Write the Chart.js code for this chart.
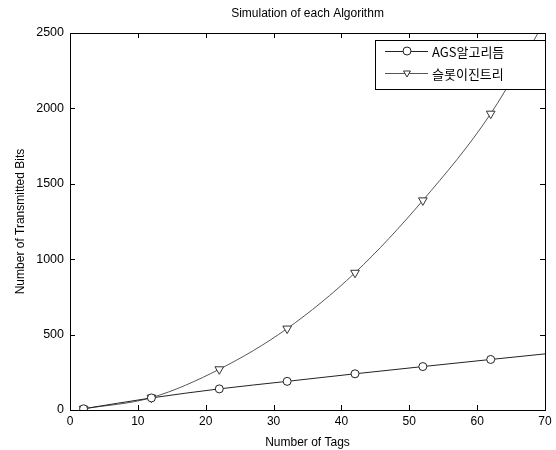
<!DOCTYPE html>
<html>
<head>
<meta charset="utf-8">
<script src="https://cdn.jsdelivr.net/npm/chart.js@4.4.0/dist/chart.umd.min.js"></script>
<style>
  html, body { margin: 0; padding: 0; background: #fff; }
  #wrap { width: 556px; height: 450px; }
</style>
</head>
<body>
<div id="wrap"><canvas id="simChart" width="556" height="450"></canvas></div>
<script>
// Datos
const tags = [2, 12, 22, 32, 42, 52, 62, 70];
const agsBits = [8, 80, 140, 190, 240, 288, 335, 372];
const slotBits = [8, 82, 270, 540, 910, 1390, 1965, 2580];
const xTicks = [0, 10, 20, 30, 40, 50, 60, 70];
const yTicks = [0, 500, 1000, 1500, 2000, 2500];
const seriesNames = ['AGS알고리듬', '슬롯이진트리'];

const baseFont = '"Liberation Sans", Arial, sans-serif';

function toPoints(ys) {
    return tags.map((t, i) => ({ x: t, y: ys[i] }));
}
// sin marcador en el ultimo punto (x=70)
function markerSizes(r) {
    return tags.map((t, i) => i === tags.length - 1 ? 0 : r);
}

// Caja, ticks interiores, titulo y leyenda al estilo MATLAB
const matlabFrame = {
    id: 'matlabFrame',
    afterDraw(chart) {
        const ctx = chart.ctx;
        const a = chart.chartArea;
        const xs = chart.scales.x, ys = chart.scales.y;
        ctx.save();
        ctx.strokeStyle = '#000';
        ctx.lineWidth = 1;
        ctx.strokeRect(Math.round(a.left) + 0.5, Math.round(a.top) + 0.5,
            Math.round(a.right - a.left), Math.round(a.bottom - a.top));
        ctx.beginPath();
        xTicks.forEach(v => {
            const px = Math.round(xs.getPixelForValue(v)) + 0.5;
            ctx.moveTo(px, a.bottom); ctx.lineTo(px, a.bottom - 5);
            ctx.moveTo(px, a.top); ctx.lineTo(px, a.top + 5);
        });
        yTicks.forEach(v => {
            const py = Math.round(ys.getPixelForValue(v)) + 0.5;
            ctx.moveTo(a.left, py); ctx.lineTo(a.left + 5, py);
            ctx.moveTo(a.right, py); ctx.lineTo(a.right - 5, py);
        });
        ctx.stroke();

        // titulo
        ctx.fillStyle = '#000';
        ctx.font = '12px ' + baseFont;
        ctx.textAlign = 'center';
        ctx.textBaseline = 'middle';
        ctx.fillText('Simulation of each Algorithm', (a.left + a.right) / 2, 14);

        // leyenda
        const bx = 375, by = 40, bw = 170, bh = 49;
        ctx.fillStyle = '#fff';
        ctx.fillRect(bx, by, bw, bh);
        ctx.strokeStyle = '#000';
        ctx.strokeRect(bx + 0.5, by + 0.5, bw, bh);
        const rows = [51, 73];
        chart.data.datasets.forEach((ds, i) => {
            const y = rows[i];
            ctx.strokeStyle = ds.borderColor;
            ctx.lineWidth = 1;
            ctx.beginPath();
            ctx.moveTo(385, y + 0.5); ctx.lineTo(428, y + 0.5);
            ctx.stroke();
            ctx.fillStyle = '#fff';
            ctx.strokeStyle = ds.pointBorderColor;
            Chart.helpers.drawPoint(ctx, {
                pointStyle: ds.pointStyle, rotation: ds.pointRotation || 0,
                radius: 4, borderWidth: 1
            }, 407, y);
            ctx.fillStyle = '#000';
            ctx.font = '13px "Noto Sans CJK KR", ' + baseFont;
            ctx.textAlign = 'left';
            ctx.textBaseline = 'middle';
            ctx.fillText(seriesNames[i], 432, y + 1);
        });
        ctx.restore();
    }
};

function initializeChart() {
    const ctx = document.getElementById('simChart').getContext('2d');
    return new Chart(ctx, {
        type: 'line',
        data: {
            datasets: [{
                label: seriesNames[0],
                data: toPoints(agsBits),
                borderColor: '#222',
                backgroundColor: 'rgba(0,0,0,0)',
                borderWidth: 1,
                pointStyle: 'circle',
                pointRadius: markerSizes(4),
                pointBorderColor: '#222',
                pointBackgroundColor: '#fff',
                pointBorderWidth: 1,
                cubicInterpolationMode: 'monotone'
            }, {
                label: seriesNames[1],
                data: toPoints(slotBits),
                borderColor: '#555',
                backgroundColor: 'rgba(0,0,0,0)',
                borderWidth: 1,
                pointStyle: 'triangle',
                pointRotation: 180,
                pointRadius: markerSizes(5),
                pointBorderColor: '#333',
                pointBackgroundColor: '#fff',
                pointBorderWidth: 1,
                cubicInterpolationMode: 'monotone'
            }]
        },
        options: {
            responsive: false,
            animation: false,
            layout: { padding: { top: 33, right: 11, left: 0, bottom: 0 } },
            plugins: {
                legend: { display: false },
                title: { display: false },
                tooltip: { enabled: false }
            },
            scales: {
                x: {
                    type: 'linear',
                    min: 0, max: 70,
                    afterFit: s => { s.height = 40; },
                    afterBuildTicks: s => { s.ticks = xTicks.map(v => ({ value: v })); },
                    grid: { display: false, drawTicks: false },
                    border: { display: false },
                    ticks: { color: '#000', font: { size: 12, family: baseFont }, padding: 4, maxRotation: 0,
                        callback: v => String(v) },
                    title: { display: true, text: 'Number of Tags', color: '#000',
                        font: { size: 12, family: baseFont }, padding: { top: 0, bottom: 0 } }
                },
                y: {
                    min: 0, max: 2500,
                    afterFit: s => { s.width = 70; },
                    afterBuildTicks: s => { s.ticks = yTicks.map(v => ({ value: v })); },
                    grid: { display: false, drawTicks: false },
                    border: { display: false },
                    ticks: { color: '#000', font: { size: 12.5, family: baseFont }, padding: 6,
                        callback: v => String(v) },
                    title: { display: true, text: 'Number of Transmitted Bits', color: '#000',
                        font: { size: 12, family: baseFont }, padding: { top: 13, bottom: 0 } }
                }
            }
        },
        plugins: [matlabFrame]
    });
}

document.addEventListener('DOMContentLoaded', function() {
    initializeChart();
});
</script>
</body>
</html>
